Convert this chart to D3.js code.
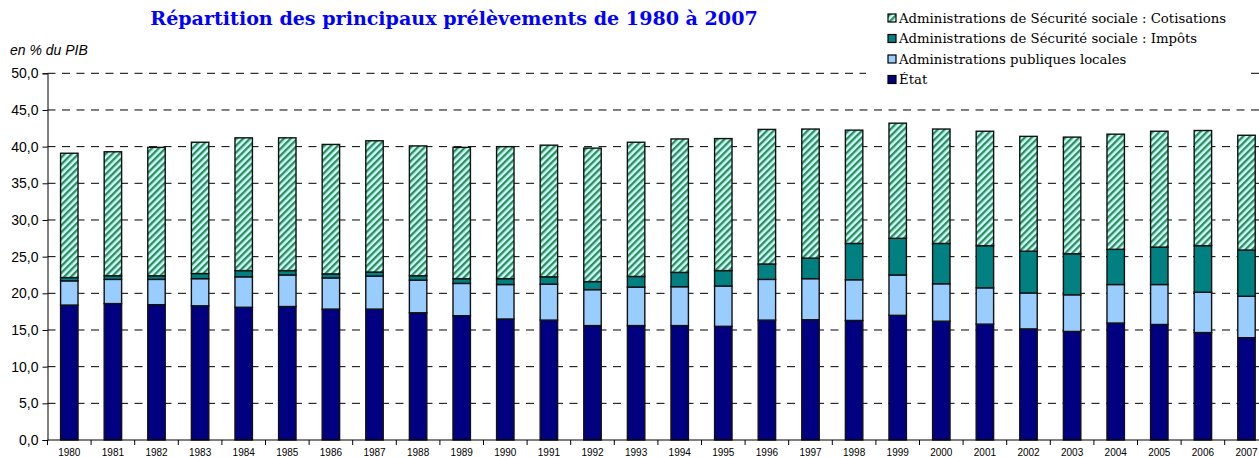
<!DOCTYPE html>
<html>
<head>
<meta charset="utf-8">
<script src="https://cdn.jsdelivr.net/npm/d3@7"></script>
<style>
  html, body { margin: 0; padding: 0; background: #fff; overflow: hidden; }
  svg { display: block; }
</style>
</head>
<body>
<svg id="chart" width="1259" height="457"></svg>
<script>
const years = ["1980","1981","1982","1983","1984","1985","1986","1987","1988","1989",
  "1990","1991","1992","1993","1994","1995","1996","1997","1998","1999",
  "2000","2001","2002","2003","2004","2005","2006","2007"];
const etat = [18.4,18.6,18.45,18.3,18.1,18.2,17.85,17.85,17.35,16.95,
  16.5,16.35,15.6,15.6,15.6,15.5,16.35,16.4,16.3,17.0,
  16.2,15.8,15.15,14.8,15.95,15.75,14.65,13.95];
const apul = [3.3,3.3,3.45,3.7,4.15,4.3,4.25,4.5,4.45,4.4,
  4.7,4.9,4.9,5.25,5.3,5.5,5.55,5.6,5.55,5.5,
  5.1,4.95,4.9,5.0,5.25,5.45,5.5,5.65];
const impots = [0.45,0.5,0.5,0.7,0.85,0.6,0.55,0.55,0.6,0.65,
  0.8,1.0,1.1,1.45,1.95,2.1,2.1,2.8,4.95,5.0,
  5.5,5.75,5.7,5.6,4.8,5.1,6.35,6.3];
const cotisations = [16.95,16.9,17.5,17.9,18.1,18.1,17.65,17.9,17.7,17.9,
  18.0,17.95,18.2,18.3,18.2,18.0,18.35,17.6,15.45,15.7,
  15.6,15.6,15.65,15.9,15.7,15.8,15.7,15.65];
const yTickValues = [0,5,10,15,20,25,30,35,40,45,50];
const seriesNames = ["État","Administrations publiques locales",
  "Administrations de Sécurité sociale : Impôts",
  "Administrations de Sécurité sociale : Cotisations"];
const seriesKeys = ["etat","apul","impots","cotisations"];
const titleText = "Répartition des principaux prélèvements de 1980 à 2007";
const unitText = "en % du PIB";

const rows = years.map((yr, i) => ({year: yr, etat: etat[i], apul: apul[i], impots: impots[i], cotisations: cotisations[i]}));

const svg = d3.select("#chart");
const defs = svg.append("defs");
const pat = defs.append("pattern")
  .attr("id", "cotisPattern")
  .attr("patternUnits", "userSpaceOnUse")
  .attr("width", 4.8).attr("height", 4.8)
  .attr("patternTransform", "rotate(45)");
pat.append("rect").attr("width", 4.8).attr("height", 4.8).attr("fill", "#CCFFFF");
pat.append("rect").attr("x", 0).attr("width", 2.3).attr("height", 4.8).attr("fill", "#2E8B5A");

const fills = {etat: "#000080", apul: "#99CCFF", impots: "#008080", cotisations: "url(#cotisPattern)"};

const x = d3.scaleBand().domain(years).range([47.5, 1268.3]).paddingInner(0.6).paddingOuter(0.3);
const y = d3.scaleLinear().domain([0, 50]).range([440, 73.3]);

// gridlines
svg.append("g").selectAll("line").data(yTickValues.filter(v => v > 0)).join("line")
  .attr("x1", 47.5).attr("x2", 1268)
  .attr("y1", d => y(d)).attr("y2", d => y(d))
  .attr("stroke", "#000").attr("stroke-width", 1)
  .attr("stroke-dasharray", "8,6.5");

// stacked bars
const stack = d3.stack().keys(seriesKeys);
const stacked = stack(rows);
svg.append("g").selectAll("g").data(stacked).join("g")
  .attr("fill", d => fills[d.key])
  .selectAll("rect").data(d => d).join("rect")
  .attr("x", d => x(d.data.year))
  .attr("width", x.bandwidth())
  .attr("y", d => y(d[1]))
  .attr("height", d => y(d[0]) - y(d[1]))
  .attr("stroke", "#111").attr("stroke-width", 1.4);

// y axis
const yAxis = d3.axisLeft(y).tickValues(yTickValues)
  .tickFormat(d => d.toFixed(1).replace(".", ","))
  .tickSize(5).tickPadding(4);
const gy = svg.append("g").attr("transform", "translate(47.5,0)").call(yAxis);
gy.select(".domain").attr("stroke", "#000");
gy.selectAll("text").attr("font-family", "Liberation Sans, Arial, sans-serif").attr("font-size", 14).attr("fill", "#000");

// x axis line
svg.append("line").attr("x1", 47.5).attr("x2", 1268).attr("y1", 440).attr("y2", 440).attr("stroke", "#000");
// boundary ticks
const step = x.step();
const bounds = years.map(yr => x(yr) - (step - x.bandwidth()) / 2).concat([x(years[years.length-1]) + x.bandwidth() + (step - x.bandwidth())/2]);
svg.append("g").selectAll("line").data(bounds).join("line")
  .attr("x1", d => d).attr("x2", d => d).attr("y1", 440).attr("y2", 445)
  .attr("stroke", "#000");
// x labels
const xAxis = d3.axisBottom(x).tickSize(0).tickPadding(9);
const gx = svg.append("g").attr("transform", "translate(0,440)").call(xAxis);
gx.select(".domain").remove();
gx.selectAll("text").attr("font-family", "Liberation Sans, Arial, sans-serif").attr("font-size", 10).attr("fill", "#000");

// unit label
svg.append("text").attr("x", 10).attr("y", 55)
  .attr("font-family", "Liberation Sans, Arial, sans-serif").attr("font-style", "italic")
  .attr("font-size", 14).attr("fill", "#000").text(unitText);

// title
const title = svg.append("text").attr("x", 454).attr("y", 25).attr("text-anchor", "middle")
  .attr("font-family", "DejaVu Serif, serif").attr("font-weight", "bold")
  .attr("font-size", 18).attr("fill", "#0000FF").text(titleText);
const tl = title.node().getComputedTextLength();
title.attr("font-size", 18 * 608 / tl);

// legend
const legendOrder = [3, 2, 1, 0];
const lg = svg.append("g");
lg.append("rect").attr("x", 866).attr("y", 3).attr("width", 380).attr("height", 90).attr("fill", "#fff");
const baselines = [22.5, 43, 63.5, 84];
legendOrder.forEach((si, j) => {
  lg.append("rect").attr("x", 888).attr("y", baselines[j] - 8.5).attr("width", 8).attr("height", 8)
    .attr("fill", fills[seriesKeys[si]]).attr("stroke", "#000").attr("stroke-width", 1.2);
});
const ltexts = legendOrder.map((si, j) =>
  lg.append("text").attr("x", 899).attr("y", baselines[j])
    .attr("font-family", "DejaVu Serif, serif").attr("font-size", 12).attr("fill", "#000")
    .text(seriesNames[si]));
const l0 = ltexts[0].node().getComputedTextLength();
const lfs = 12 * 327 / l0;
ltexts.forEach(t => t.attr("font-size", lfs));
</script>
</body>
</html>
